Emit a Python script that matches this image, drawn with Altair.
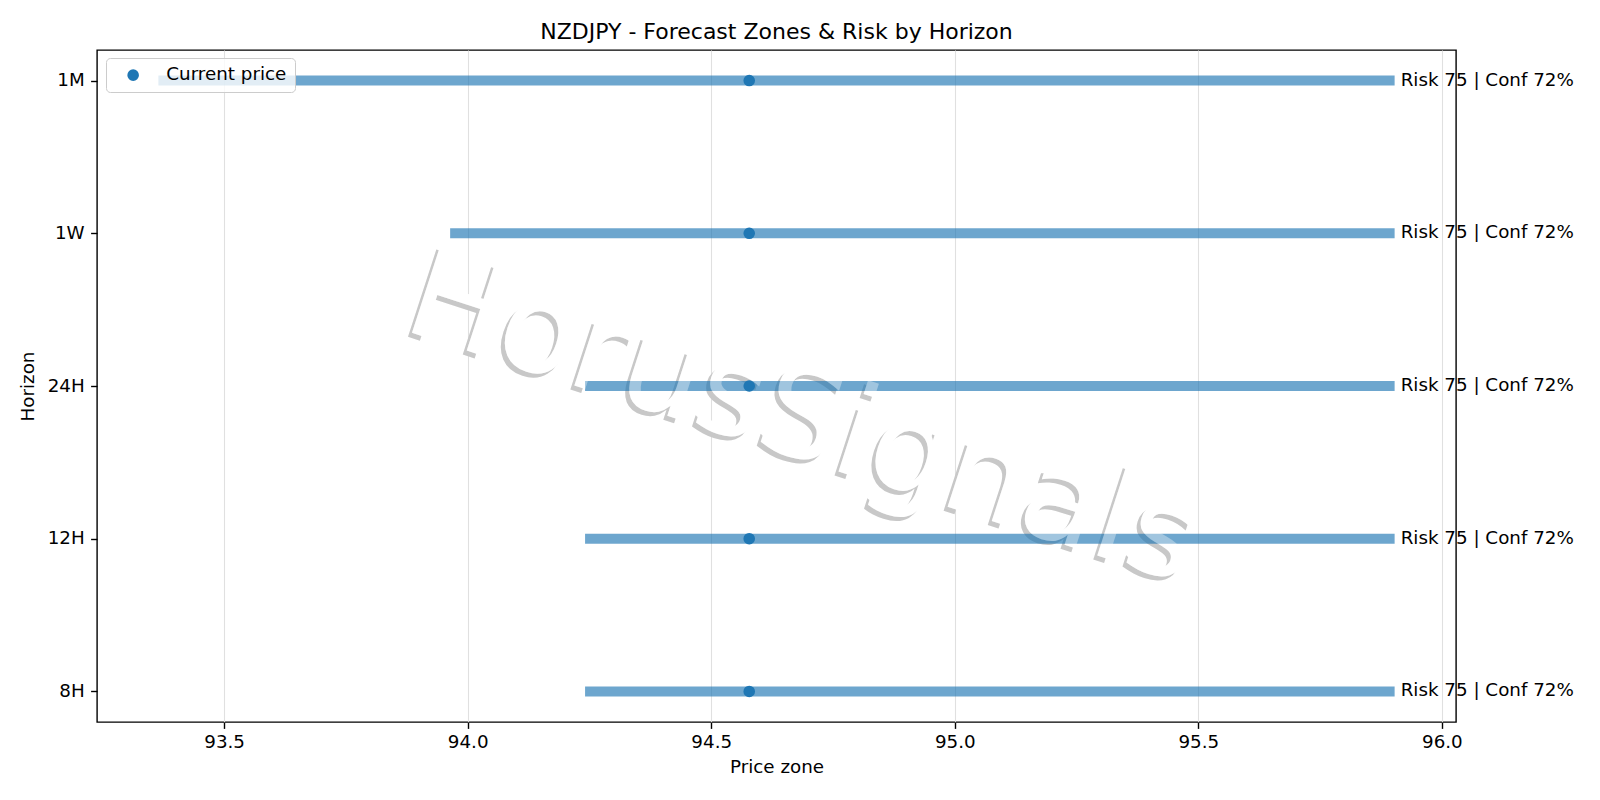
import altair as alt
import pandas as pd

horizons = ["1M", "1W", "24H", "12H", "8H"]
zone_low = [93.365, 93.964, 94.241, 94.241, 94.241]
zone_high = [95.903, 95.903, 95.903, 95.903, 95.903]
current_price = [94.578, 94.578, 94.578, 94.578, 94.578]
risk = [75, 75, 75, 75, 75]
conf = [72, 72, 72, 72, 72]
x_ticks = [93.5, 94.0, 94.5, 95.0, 95.5, 96.0]
x_domain = [93.239, 96.029]
watermark = "HorusSignals"

df = pd.DataFrame({
    "horizon": horizons,
    "low": zone_low,
    "high": zone_high,
    "price": current_price,
    "label": [f"Risk {r} | Conf {c}%" for r, c in zip(risk, conf)],
    "series": ["Current price"] * len(horizons),
})

FS = 18.3
xs = alt.Scale(domain=x_domain, nice=False, zero=False)
ys = alt.Scale(domain=horizons, type="point", padding=0.2)

x_axis = alt.Axis(values=x_ticks, format=".1f", title="Price zone", grid=True,
                  gridColor="#e0e0e0", gridWidth=1.1, domain=False,
                  tickColor="black", tickWidth=1.4, tickSize=6.4, labelPadding=5,
                  labelFontSize=FS, titleFontSize=FS, titleFontWeight="normal",
                  titlePadding=8, labelColor="black", titleColor="black",
                  labelFont="DejaVu Sans", titleFont="DejaVu Sans")
y_axis = alt.Axis(title="Horizon", grid=False, domain=False,
                  tickColor="black", tickWidth=1.4, tickSize=6.4, labelPadding=6.4,
                  labelFontSize=FS, titleFontSize=FS, titleFontWeight="normal",
                  titlePadding=10, labelColor="black", titleColor="black",
                  labelFont="DejaVu Sans", titleFont="DejaVu Sans")

base = alt.Chart(df)

bars = base.mark_rule(strokeWidth=10, strokeCap="butt", color="#1f77b4", opacity=0.65).encode(
    x=alt.X("low:Q", scale=xs, axis=x_axis),
    x2="high:Q",
    y=alt.Y("horizon:N", scale=ys, axis=y_axis, sort=horizons),
)

points = base.mark_circle(size=135, opacity=1).encode(
    x=alt.X("price:Q", scale=xs),
    y=alt.Y("horizon:N", scale=ys, sort=horizons),
    color=alt.Color("series:N", scale=alt.Scale(range=["#1f77b4"]),
                    legend=alt.Legend(title=None, orient="none", legendX=9, legendY=8,
                                      fillColor="rgba(255,255,255,0.8)", strokeColor="#cccccc",
                                      cornerRadius=4, padding=8, symbolOffset=10,
                                      labelOffset=24, labelFontSize=FS, labelFont="DejaVu Sans",
                                      labelColor="black", symbolSize=135, symbolType="circle",
                                      symbolStrokeWidth=0)),
)

labels = base.mark_text(align="left", baseline="middle", dx=6, fontSize=FS,
                        font="DejaVu Sans", color="black").encode(
    x=alt.X("high:Q", scale=xs),
    y=alt.Y("horizon:N", scale=ys, sort=horizons),
    text="label:N",
)

WM_FS = 126
MX, MY = 694, 406
wm_df = pd.DataFrame({"t": [watermark]})
wm_shadow = alt.Chart(wm_df).mark_text(align="center", baseline="alphabetic", angle=18,
                                       fontSize=WM_FS, font="DejaVu Sans",
                                       color="#c8c8c8").encode(
    x=alt.value(MX - 4), y=alt.value(MY + 4), text="t:N")
wm_under = alt.Chart(wm_df).mark_text(align="center", baseline="alphabetic", angle=18,
                                      fontSize=WM_FS, font="DejaVu Sans",
                                      color="white").encode(
    x=alt.value(MX), y=alt.value(MY), text="t:N")
wm_top = alt.Chart(wm_df).mark_text(align="center", baseline="alphabetic", angle=18,
                                    fontSize=WM_FS, font="DejaVu Sans",
                                    color="white", opacity=0.35).encode(
    x=alt.value(MX), y=alt.value(MY), text="t:N")

chart = alt.layer(wm_shadow, wm_under, bars, points, labels, wm_top).properties(
    width=1359, height=672,
    background="white",
    title=alt.TitleParams("NZDJPY - Forecast Zones & Risk by Horizon", fontSize=22,
                          font="DejaVu Sans", fontWeight="normal", color="black", offset=6),
    autosize=alt.AutoSizeParams(type="none"),
    padding={"left": 97, "top": 50, "right": 144, "bottom": 78},
).configure_view(stroke="black", strokeWidth=1.4)

chart.save("out.html", embed_options={"renderer": "svg", "actions": False})
